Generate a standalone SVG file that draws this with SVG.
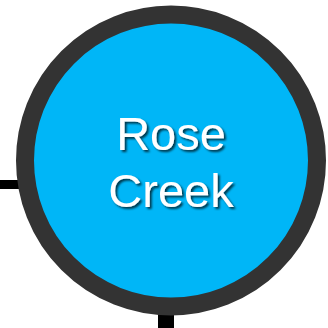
<svg xmlns="http://www.w3.org/2000/svg" width="328" height="328" viewBox="0 0 328 328">
<defs>
<style>
.conn{fill:#000000;}
.node-circle{fill:#00B6F7;stroke:#333333;stroke-width:18;}
.label{font-family:"Liberation Sans",Arial,sans-serif;font-size:47px;fill:#ffffff;text-anchor:middle;}
</style>
<filter id="shadow" x="-20%" y="-20%" width="140%" height="140%">
<feDropShadow dx="2" dy="2" stdDeviation="1" flood-color="#000000" flood-opacity="0.7"/>
</filter>
</defs>
<g id="connectors">
<rect class="conn" x="0" y="180" width="20" height="9"/>
<rect class="conn" x="158" y="312" width="16" height="16"/>
</g>
<g id="node-rose-creek">
<circle class="node-circle" cx="171" cy="160.5" r="146"/>
<text class="label" filter="url(#shadow)"><tspan x="171" y="150">Rose</tspan><tspan x="171" y="207">Creek</tspan></text>
</g>
</svg>
